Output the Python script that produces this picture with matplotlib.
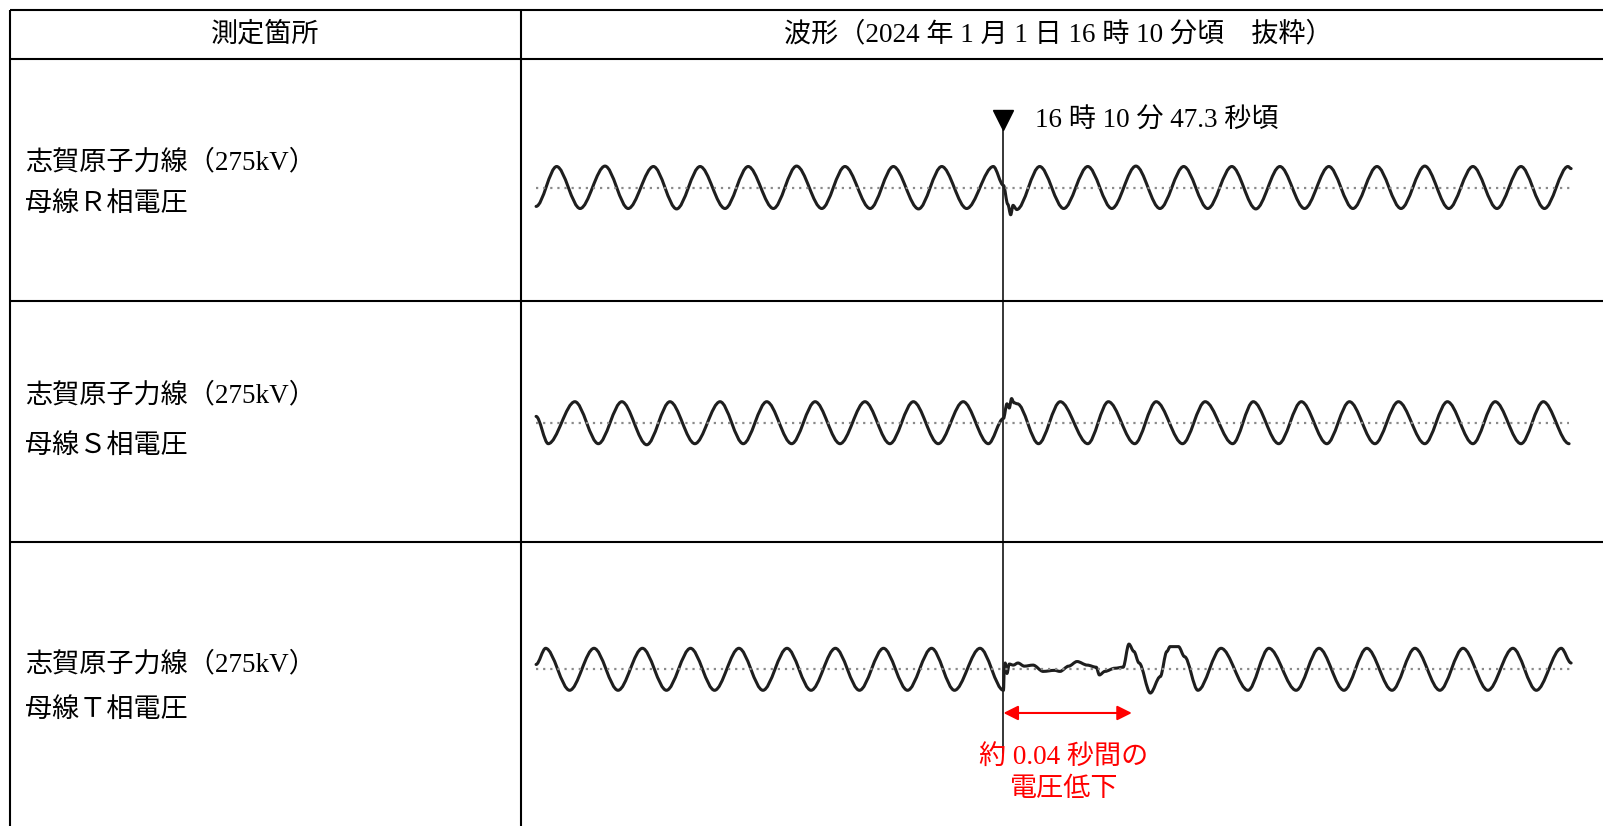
import matplotlib
matplotlib.use("Agg")
import matplotlib.pyplot as plt
from matplotlib.transforms import blended_transform_factory
from matplotlib.path import Path
from matplotlib.patches import PathPatch

plt.rcParams['font.family'] = ['Liberation Serif', 'Noto Sans CJK JP', 'DejaVu Sans']

# ---------------- data ----------------
header_left = "測定箇所"
header_right = "波形（2024 年 1 月 1 日 16 時 10 分頃　抜粋）"
row_line1 = ["志賀原子力線（275kV）", "志賀原子力線（275kV）", "志賀原子力線（275kV）"]
row_line2 = ["母線Ｒ相電圧", "母線Ｓ相電圧", "母線Ｔ相電圧"]
event_label = "16 時 10 分 47.3 秒頃"
event_t = 0.0          # ms, 16:10:47.3
dip_end_t = 44.3       # ms, end of the voltage dip (~0.04 s)
dip_label_1 = "約 0.04 秒間の"
dip_label_2 = "電圧低下"

# R phase waveform vertices (time in ms from event, value in p.u.)
r_t = [-161.3, -154.2, -146.1, -137.5, -129.5, -120.8, -112.8, -104.7, -96.1, -88.1,
       -79.4, -71.4, -62.7, -54.7, -46.0, -38.0, -29.3, -21.3, -12.7, -3.5,
       0.0, 1.5, 2.5, 3.3, 4.6,
       12.5, 20.8, 29.1, 37.4, 45.7, 54.0, 62.2, 70.5, 78.8, 87.1, 95.4, 103.9,
       112.3, 120.6, 128.9, 137.2, 145.4, 153.7, 162.0, 170.3, 178.6, 186.7, 194.8, 195.9]
r_v = [-0.9, 1.0, -1.0, 1.02, -1.0, 1.0, -1.02, 1.0, -1.0, 1.0,
       -1.0, 1.02, -1.0, 1.0, -1.0, 1.0, -1.02, 1.0, -1.0, 1.0,
       0.1, -0.8, -1.3, -0.85, -1.05,
       1.0, -1.0, 1.0, -1.0, 1.02, -1.0, 1.0, -1.0, 1.0, -1.02, 1.0, -1.0,
       1.0, -1.0, 1.0, -1.0, 1.02, -1.0, 1.0, -1.0, 1.0, -1.0, 1.0, 0.9]

# S phase waveform vertices
s_t = [-161.3, -157.1, -147.9, -139.8, -131.7, -123.1, -115.1, -106.5, -97.8, -89.8,
       -81.7, -73.1, -65.0, -56.4, -47.8, -39.2, -31.1, -22.5, -13.9, -5.2,
       0.0, 1.2, 2.0, 2.8, 3.6, 4.8,
       12.1, 19.6, 29.1, 36.2, 45.3, 52.7, 61.8, 69.6, 79.1, 86.2, 95.0, 102.8,
       111.6, 119.4, 128.2, 136.3, 145.4, 153.2, 162.0, 169.7, 178.6, 186.3, 195.2]
s_v = [0.3, -1.0, 1.0, -1.0, 1.0, -1.05, 1.0, -1.0, 1.0, -1.0,
       1.0, -1.0, 1.0, -1.0, 1.0, -1.0, 1.0, -1.0, 1.0, -1.0,
       0.2, 0.9, 0.7, 1.15, 0.95, 0.9,
       -1.0, 1.0, -1.0, 1.0, -1.0, 1.0, -1.0, 1.0, -1.0, 1.0, -1.0, 1.0,
       -1.0, 1.0, -1.0, 1.0, -1.0, 1.0, -1.0, 1.0, -1.0, 1.0, -1.0]

# T phase waveform vertices (dip after event)
t_t = [-161.3, -158.0, -149.7, -141.3, -133.0, -124.6, -116.3, -108.0, -99.7, -91.3,
       -83.0, -74.7, -66.4, -58.0, -49.7, -41.4, -33.1, -24.8, -16.9, -8.1, 0.0,
       0.3, 0.6, 1.2, 2.0, 3.4, 5.0, 7.2, 10.2, 13.7, 17.6, 19.5, 22.5, 25.4, 28.9,
       32.0, 33.1, 35.0, 38.4, 41.3, 43.3, 45.0, 46.8,
       50.7, 54.1, 56.4, 57.5, 60.4, 62.5,
       67.1, 75.1, 84.4, 91.6, 101.0, 108.9, 117.5, 125.4, 134.1, 142.0, 150.6,
       158.6, 167.2, 175.8, 183.9, 192.5, 195.9]
t_v = [0.23, 1.0, -1.0, 1.0, -1.0, 1.0, -1.0, 1.0, -1.0, 1.0,
       -1.0, 1.0, -1.0, 1.0, -1.0, 1.0, -1.0, 1.0, -1.0, 1.0, -1.0,
       0.05, 0.3, -0.2, 0.25, 0.2, 0.3, 0.15, 0.2, -0.1, -0.05, -0.1, 0.15, 0.37, 0.2,
       0.1, -0.27, -0.1, 0.05, 0.1, 1.2, 0.85, 0.3,
       -1.13, -0.35, 0.85, 1.08, 1.08, 0.6,
       -1.0, 1.0, -1.0, 1.0, -1.0, 1.0, -1.0, 1.0, -1.0, 1.0, -1.0,
       1.0, -1.0, 1.0, -1.0, 1.0, 0.3]

waves_t = [r_t, s_t, t_t]
waves_v = [r_v, s_v, t_v]


def smooth_path(t, v):
    """Smooth curve through the vertices (horizontal tangents at each vertex)."""
    verts = [(t[0], v[0])]
    codes = [Path.MOVETO]
    for i in range(1, len(t)):
        d = 0.33 * (t[i] - t[i - 1])
        verts += [(t[i - 1] + d, v[i - 1]), (t[i] - d, v[i]), (t[i], v[i])]
        codes += [Path.CURVE4] * 3
    return Path(verts, codes)


# ---------------- layout (pixels) ----------------
W, H, DPI = 1603, 826, 100
fig = plt.figure(figsize=(W / DPI, H / DPI), dpi=DPI)
ov = fig.add_axes([0, 0, 1, 1])
ov.set_xlim(0, W)
ov.set_ylim(H, 0)
ov.axis('off')

LW = 1.5
x_left, x_mid, x_right = 10, 521, 1603
y_top, y_head = 10, 59
row_bottoms = [301, 542]
for y in [y_top, y_head] + row_bottoms:
    ov.plot([x_left, x_right], [y, y], color='black', lw=LW, solid_capstyle='butt')
for x in [x_left, x_mid]:
    ov.plot([x, x], [y_top, H], color='black', lw=LW, solid_capstyle='butt')

FS = 19.5
ov.text((x_left + x_mid) / 2, 35, header_left, ha='center', va='center', fontsize=FS)
ov.text((x_mid + x_right) / 2 - 4, 35, header_right, ha='center', va='center', fontsize=FS)

label_y = [(162.5, 204.0), (396.0, 446.5), (665.0, 710.0)]
for (y1, y2), l1, l2 in zip(label_y, row_line1, row_line2):
    ov.text(25, y1, l1, ha='left', va='center', fontsize=FS)
    ov.text(25, y2, l2, ha='left', va='center', fontsize=FS)

# waveform axes
t_left, t_right = -166.5, 206.9
centers = [187.5, 422.7, 669.3]
amp_px = 21.0
wave_axes = []
for c, tt, vv in zip(centers, waves_t, waves_v):
    box_top, box_bot = c - 3 * amp_px, c + 3 * amp_px
    ax = fig.add_axes([x_mid / W, 1 - box_bot / H, (x_right - x_mid) / W, (box_bot - box_top) / H])
    ax.set_xlim(t_left, t_right)
    ax.set_ylim(-3, 3)
    ax.axis('off')
    ax.patch.set_alpha(0)
    ax.plot([tt[0], tt[-1]], [0, 0], color='#8a8a8a', lw=1.6, ls=(0, (1, 2.2)))
    ax.add_patch(PathPatch(smooth_path(tt, vv), facecolor='none', edgecolor='#1e1e1e',
                           lw=2.2, joinstyle='round', capstyle='round'))
    wave_axes.append(ax)

# event marker
bt = blended_transform_factory(wave_axes[0].transData, ov.transData)
ov.plot([event_t, event_t], [130, 753], color='black', lw=1.1, transform=bt)
ov.plot([event_t], [120], marker='v', color='black', markersize=14, transform=bt)
ov.text(1035, 121, event_label, ha='left', va='center', fontsize=FS)

# red dip annotation
axT = wave_axes[2]
axT.annotate('', xy=(event_t, -2.08), xytext=(dip_end_t, -2.08),
             arrowprops=dict(arrowstyle='<|-|>', color='#ff0000', lw=1.5,
                             mutation_scale=22, shrinkA=0, shrinkB=0))
ov.text(1064, 757, dip_label_1, ha='center', va='center', fontsize=FS, color='#ff0000')
ov.text(1064, 790, dip_label_2, ha='center', va='center', fontsize=FS, color='#ff0000')

fig.savefig('out.png', dpi=DPI)
